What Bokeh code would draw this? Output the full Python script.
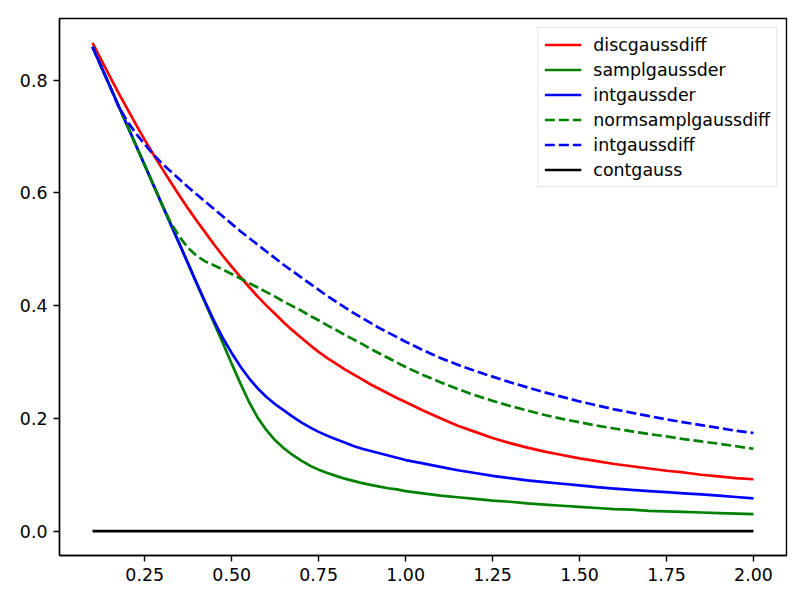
from bokeh.plotting import figure
from bokeh.models import Range1d, FixedTicker, NumeralTickFormatter
from bokeh.embed import file_html
from bokeh.resources import INLINE

sigma = [0.1, 0.125, 0.15, 0.175, 0.2,
         0.225, 0.25, 0.275, 0.3, 0.325,
         0.35, 0.375, 0.4, 0.425, 0.45,
         0.475, 0.5, 0.525, 0.55, 0.575,
         0.6, 0.625, 0.65, 0.675, 0.7,
         0.725, 0.75, 0.775, 0.8, 0.825,
         0.85, 0.875, 0.9, 0.925, 0.95,
         0.975, 1.0,
         1.05, 1.1, 1.15, 1.2, 1.25,
         1.3, 1.35, 1.4, 1.45, 1.5,
         1.55, 1.6, 1.65, 1.7, 1.75,
         1.8, 1.85, 1.9, 1.95, 2.0]

discgaussdiff = [0.866, 0.836, 0.806, 0.777, 0.749,
                 0.721, 0.694, 0.668, 0.643, 0.619,
                 0.595, 0.572, 0.550, 0.529, 0.508,
                 0.488, 0.469, 0.451, 0.433, 0.416,
                 0.400, 0.385, 0.370, 0.356, 0.343,
                 0.330, 0.318, 0.307, 0.297, 0.287,
                 0.278, 0.269, 0.260, 0.252, 0.244,
                 0.236, 0.229,
                 0.214, 0.200, 0.187, 0.176, 0.165,
                 0.156, 0.148, 0.141, 0.135, 0.129,
                 0.124, 0.119, 0.115, 0.111, 0.107,
                 0.104, 0.100, 0.097, 0.094, 0.092]

samplgaussder = [0.859, 0.824, 0.789, 0.754, 0.719,
                 0.684, 0.649, 0.614, 0.579, 0.544,
                 0.509, 0.474, 0.438, 0.403, 0.368,
                 0.333, 0.297, 0.262, 0.229, 0.201,
                 0.179, 0.161, 0.147, 0.135, 0.125,
                 0.116, 0.109, 0.103, 0.098, 0.093,
                 0.089, 0.085, 0.082, 0.079, 0.076,
                 0.074, 0.071,
                 0.067, 0.063, 0.060, 0.057, 0.054,
                 0.052, 0.049, 0.047, 0.045, 0.043,
                 0.041, 0.039, 0.038, 0.036, 0.035,
                 0.034, 0.033, 0.032, 0.031, 0.030]

intgaussder = [0.859, 0.824, 0.789, 0.754, 0.719,
               0.684, 0.649, 0.614, 0.579, 0.544,
               0.509, 0.474, 0.439, 0.405, 0.372,
               0.342, 0.316, 0.292, 0.271, 0.253,
               0.238, 0.225, 0.214, 0.203, 0.193,
               0.184, 0.176, 0.169, 0.163, 0.157,
               0.151, 0.146, 0.142, 0.138, 0.134,
               0.130, 0.126,
               0.120, 0.114, 0.108, 0.103, 0.098,
               0.094, 0.090, 0.087, 0.084, 0.081,
               0.078, 0.0755, 0.073, 0.071, 0.069,
               0.067, 0.065, 0.063, 0.0605, 0.058]

normsamplgaussdiff = [0.859, 0.824, 0.789, 0.754, 0.719,
                      0.684, 0.649, 0.614, 0.579, 0.547,
                      0.522, 0.502, 0.488, 0.478, 0.471,
                      0.464, 0.456, 0.448, 0.440, 0.432,
                      0.424, 0.416, 0.407, 0.399, 0.391,
                      0.382, 0.374, 0.365, 0.357, 0.348,
                      0.340, 0.332, 0.323, 0.315, 0.307,
                      0.299, 0.291,
                      0.277, 0.264, 0.252, 0.241, 0.231,
                      0.222, 0.214, 0.206, 0.199, 0.193,
                      0.187, 0.182, 0.177, 0.172, 0.168,
                      0.163, 0.159, 0.155, 0.1505, 0.146]

intgaussdiff = [0.859, 0.824, 0.789, 0.753, 0.727,
                0.705, 0.686, 0.668, 0.652, 0.638,
                0.624, 0.610, 0.597, 0.584, 0.571,
                0.558, 0.545, 0.532, 0.520, 0.508,
                0.496, 0.484, 0.472, 0.461, 0.450,
                0.439, 0.428, 0.417, 0.407, 0.397,
                0.387, 0.378, 0.369, 0.360, 0.352,
                0.344, 0.336,
                0.321, 0.307, 0.295, 0.284, 0.274,
                0.264, 0.255, 0.246, 0.238, 0.230,
                0.223, 0.216, 0.210, 0.204, 0.198,
                0.193, 0.188, 0.183, 0.178, 0.174]

contgauss = [0.0] * len(sigma)

x_ticks = [0.25, 0.5, 0.75, 1.0, 1.25, 1.5, 1.75, 2.0]
y_ticks = [0.0, 0.2, 0.4, 0.6, 0.8]

FONT = "DejaVu Sans"
FS = "17.4px"
LW = 2.7

p = figure(width=797, height=598, output_backend="svg", toolbar_location=None,
           x_range=Range1d(0.005, 2.095), y_range=Range1d(-0.0433, 0.9093),
           min_border_left=59, min_border_right=11, min_border_top=18, min_border_bottom=43)

p.line(sigma, discgaussdiff, line_color="#ff0000", line_width=LW, legend_label="discgaussdiff")
p.line(sigma, samplgaussder, line_color="#008000", line_width=LW, legend_label="samplgaussder")
p.line(sigma, intgaussder, line_color="#0000ff", line_width=LW, legend_label="intgaussder")
p.line(sigma, normsamplgaussdiff, line_color="#008000", line_width=LW, line_dash="10 4",
       legend_label="normsamplgaussdiff")
p.line(sigma, intgaussdiff, line_color="#0000ff", line_width=LW, line_dash="10 4",
       legend_label="intgaussdiff")
p.line(sigma, contgauss, line_color="#000000", line_width=LW, legend_label="contgauss")

p.grid.visible = False
p.outline_line_color = "black"
p.outline_line_width = 1.4
p.background_fill_color = "white"
p.border_fill_color = "white"

p.xaxis.ticker = FixedTicker(ticks=x_ticks)
p.yaxis.ticker = FixedTicker(ticks=y_ticks)
p.xaxis.formatter = NumeralTickFormatter(format="0.00")
p.yaxis.formatter = NumeralTickFormatter(format="0.0")
for ax in (p.xaxis, p.yaxis):
    ax.axis_line_color = "black"
    ax.axis_line_width = 1.4
    ax.major_tick_line_width = 1.4
    ax.major_tick_out = 6
    ax.major_tick_in = 0
    ax.minor_tick_line_color = None
    ax.major_label_text_font = FONT
    ax.major_label_text_font_size = FS
    ax.major_label_text_color = "black"
    ax.major_label_standoff = 6

lg = p.legend[0]
lg.location = "top_right"
lg.margin = 9
lg.padding = 6
lg.spacing = 4
lg.label_height = 21
lg.glyph_height = 21
lg.glyph_width = 37
lg.label_standoff = 12
lg.label_text_font = FONT
lg.label_text_font_size = FS
lg.label_text_color = "black"
lg.border_line_color = "#cccccc"
lg.border_line_width = 1.4
lg.background_fill_alpha = 0.8

open("out.html", "w").write(file_html(p, INLINE))
